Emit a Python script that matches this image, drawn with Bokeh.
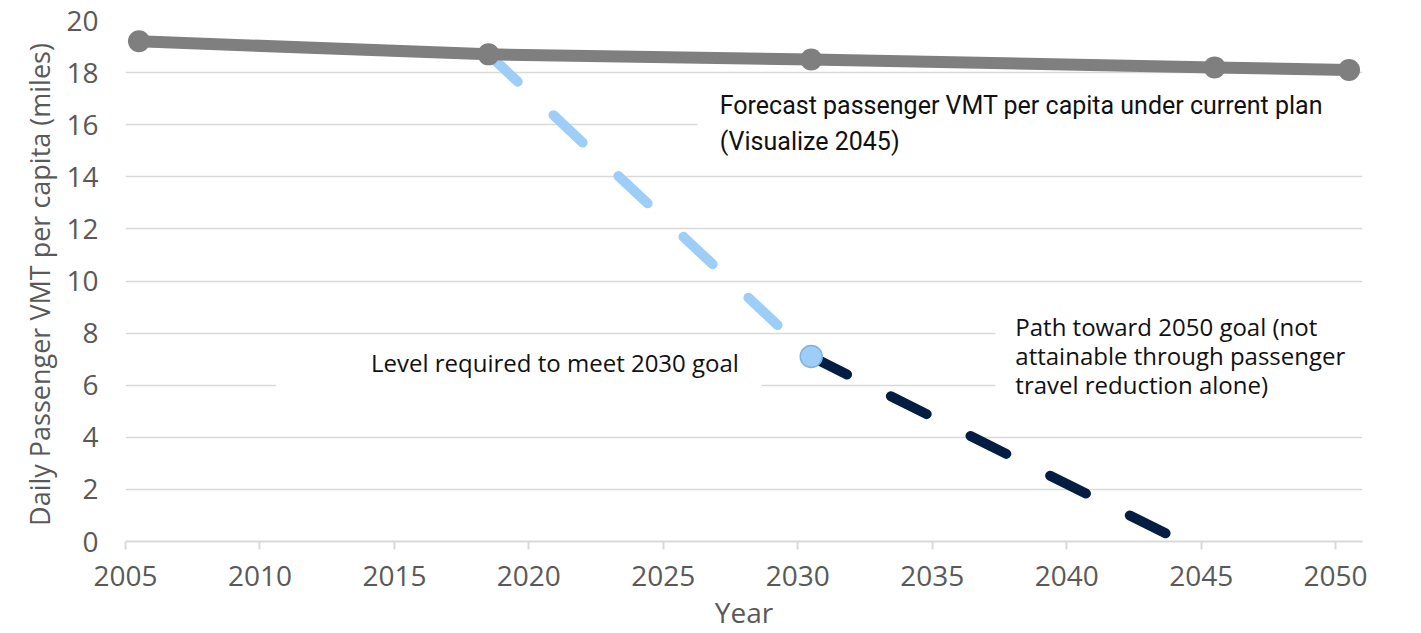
from bokeh.plotting import figure
from bokeh.models import Label, BoxAnnotation, FixedTicker, Range1d
from bokeh.embed import file_html
from bokeh.resources import INLINE

# ---- data ----
years_forecast = [2005, 2018, 2030, 2045, 2050]
vmt_forecast = [19.2, 18.7, 18.5, 18.2, 18.1]

years_goal_2030 = [2018, 2030]
vmt_goal_2030 = [18.7, 7.1]

years_path_2050 = [2030, 2050]
vmt_path_2050 = [7.1, -3.2]

x_ticks = [2005, 2010, 2015, 2020, 2025, 2030, 2035, 2040, 2045, 2050]
y_ticks = [0, 2, 4, 6, 8, 10, 12, 14, 16, 18, 20]

label_forecast = ["Forecast passenger VMT per capita under current plan", "(Visualize 2045)"]
label_goal_2030 = "Level required to meet 2030 goal"
label_path_2050 = ["Path toward 2050 goal (not", "attainable through passenger", "travel reduction alone)"]
x_title = "Year"
y_title = "Daily Passenger  VMT per capita (miles)"

# values are plotted at mid-year (date axis)
def mid(years):
    return [y + 0.5 for y in years]

FONT = "Open Sans"
AXIS_COL = "#595959"
GRID_COL = "#D9D9D9"

p = figure(width=1421, height=633, x_range=Range1d(2005, 2051), y_range=Range1d(0, 20),
           output_backend="svg", toolbar_location=None,
           min_border_left=125, min_border_right=59, min_border_top=20, min_border_bottom=92)
p.outline_line_color = None
p.background_fill_color = "white"
p.border_fill_color = "white"

p.xgrid.visible = False
p.ygrid.grid_line_color = GRID_COL
p.ygrid.grid_line_width = 1.5
p.ygrid.ticker = FixedTicker(ticks=y_ticks)

p.xaxis.ticker = FixedTicker(ticks=x_ticks)
p.xaxis.axis_line_color = GRID_COL
p.xaxis.axis_line_width = 2
p.xaxis.major_tick_line_color = GRID_COL
p.xaxis.major_tick_line_width = 2
p.xaxis.major_tick_out = 8
p.xaxis.major_tick_in = 0
p.xaxis.minor_tick_line_color = None
p.xaxis.major_label_text_font = FONT
p.xaxis.major_label_text_font_size = "28px"
p.xaxis.major_label_text_color = AXIS_COL
p.xaxis.major_label_standoff = 16
p.xaxis.axis_label = x_title
p.xaxis.axis_label_text_font = FONT
p.xaxis.axis_label_text_font_size = "28px"
p.xaxis.axis_label_text_font_style = "normal"
p.xaxis.axis_label_text_color = AXIS_COL
p.xaxis.axis_label_standoff = 4

p.yaxis.ticker = FixedTicker(ticks=y_ticks)
p.yaxis.axis_line_color = None
p.yaxis.major_tick_line_color = None
p.yaxis.minor_tick_line_color = None
p.yaxis.major_tick_out = 0
p.yaxis.major_tick_in = 0
p.yaxis.major_label_text_font = FONT
p.yaxis.major_label_text_font_size = "28px"
p.yaxis.major_label_text_color = AXIS_COL
p.yaxis.major_label_standoff = 27
p.yaxis.axis_label = y_title
p.yaxis.axis_label_text_font = FONT
p.yaxis.axis_label_text_font_size = "27px"
p.yaxis.axis_label_text_font_style = "normal"
p.yaxis.axis_label_text_color = AXIS_COL
p.yaxis.axis_label_standoff = 5

# white backgrounds of the text boxes (hide gridlines behind them)
for l, r, b, t in [(2010.6, 2028.65, 5.5, 7.5), (2026.27, 2051, 15.2, 17.2), (2037.35, 2051, 4.8, 9.2)]:
    p.add_layout(BoxAnnotation(left=l, right=r, bottom=b, top=t, fill_color="white", fill_alpha=1,
                               line_color=None, level="underlay"))

# series
p.line(mid(years_path_2050), vmt_path_2050, line_color="#031E42", line_width=10,
       line_dash="40 49", line_cap="round")
p.line(mid(years_goal_2030), vmt_goal_2030, line_color="#9DCEF7", line_width=10,
       line_dash="40 49", line_cap="round")
p.scatter(mid(years_goal_2030)[-1:], vmt_goal_2030[-1:], size=22, fill_color="#9DCEF7",
          line_color="#7FB3E0", line_width=1.5)
p.line(mid(years_forecast), vmt_forecast, line_color="#7F7F7F", line_width=12, line_join="round")
p.scatter(mid(years_forecast), vmt_forecast, size=22, fill_color="#7F7F7F", line_color=None)

# annotations
TXT = "#111111"
for i, t in enumerate(label_forecast):
    p.add_layout(Label(x=2027.1, y=16.74 - i * 1.38, text=t, text_font="Roboto", text_font_size="25px",
                       text_color=TXT, text_baseline="middle", text_align="left"))
p.add_layout(Label(x=2014.13, y=6.87, text=label_goal_2030, text_font=FONT, text_font_size="24px",
                   text_color=TXT, text_baseline="middle", text_align="left"))
for i, t in enumerate(label_path_2050):
    p.add_layout(Label(x=2038.09, y=8.25 - i * 1.11, text=t, text_font=FONT, text_font_size="24px",
                       text_color=TXT, text_baseline="middle", text_align="left"))

open("out.html", "w").write(file_html(p, INLINE))
